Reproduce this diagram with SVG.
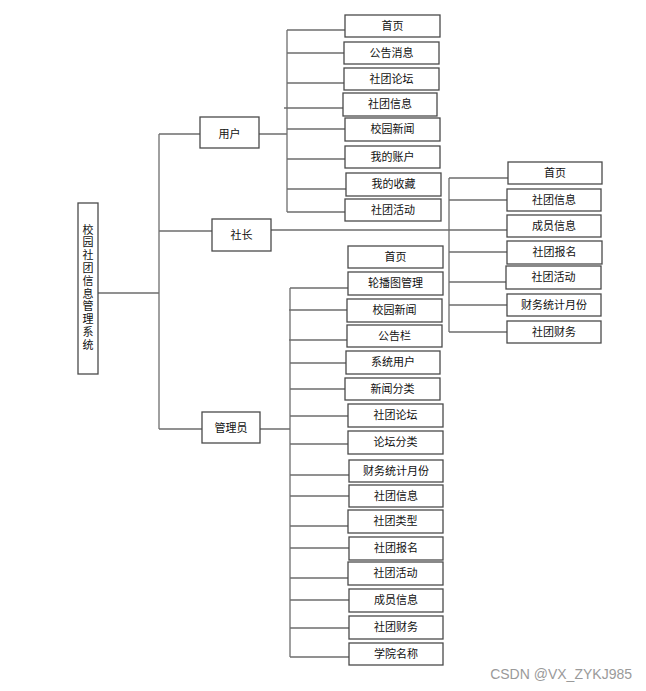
<svg xmlns="http://www.w3.org/2000/svg" width="646" height="691" viewBox="0 0 646 691">
<style>
.n rect{fill:#fff;stroke:#4a4a4a;stroke-width:1.3}
.n text{font-family:"Noto Sans CJK SC","Liberation Sans",sans-serif;font-size:11px;text-anchor:middle;fill:#111}
.n text.v{text-anchor:start;writing-mode:tb;letter-spacing:1.8px}
#connectors path{fill:none;stroke:#6e6e6e;stroke-width:1.3}
.wm{font-family:"Liberation Sans",sans-serif;font-size:14px;fill:#9a9a9a}
</style>
<rect width="646" height="691" fill="#fff"/>
<g id="connectors">
<path d="M98,293H159M159,134V429M159,134H200M159,231H212M159,429H202"/>
<path d="M259,134H287M287,30V212M287,30H345M287,53H344M287,83H344M284,108H343M287,129H345M287,159H345M287,189H346M287,212H345"/>
<path d="M271,230H507M449,178V332M449,178H508M449,200H507M449,252H507M449,282H506M449,305H507M449,332H507"/>
<path d="M260,429H290M290,288V657M290,288H348M289,310H347M289,340H347M290,363H346M290,389H345M290,416H348M290,444H348M290,475H349M290,496H349M290,526H348M290,548H349M290,578H348M290,600H349M290,628H349M290,657H349"/>
</g>
<g id="root" class="n"><rect x="78" y="203" width="20" height="171"/><text class="v" x="88" y="224">校园社团信息管理系统</text></g>
<g id="user" class="n"><rect x="200" y="117" width="59" height="31"/><text x="229.5" y="138">用户</text></g>
<g id="leader" class="n"><rect x="212" y="219" width="59" height="32"/><text x="241.5" y="239">社长</text></g>
<g id="admin" class="n"><rect x="202" y="412" width="58" height="31"/><text x="231" y="432">管理员</text></g>
<g id="u1" class="n"><rect x="345" y="15" width="95" height="22"/><text x="392.5" y="30">首页</text></g>
<g id="u2" class="n"><rect x="344" y="42" width="95" height="22"/><text x="391.5" y="57">公告消息</text></g>
<g id="u3" class="n"><rect x="344" y="68" width="95" height="22"/><text x="391.5" y="83">社团论坛</text></g>
<g id="u4" class="n"><rect x="343" y="93" width="94" height="23"/><text x="390" y="108">社团信息</text></g>
<g id="u5" class="n"><rect x="345" y="118" width="95" height="23"/><text x="392.5" y="133">校园新闻</text></g>
<g id="u6" class="n"><rect x="345" y="146" width="95" height="22"/><text x="392.5" y="161">我的账户</text></g>
<g id="u7" class="n"><rect x="346" y="173" width="95" height="23"/><text x="393.5" y="188">我的收藏</text></g>
<g id="u8" class="n"><rect x="345" y="199" width="96" height="22"/><text x="393" y="214">社团活动</text></g>
<g id="l1" class="n"><rect x="508" y="162" width="94" height="22"/><text x="555" y="177">首页</text></g>
<g id="l2" class="n"><rect x="507" y="189" width="94" height="22"/><text x="554" y="204">社团信息</text></g>
<g id="l3" class="n"><rect x="507" y="215" width="94" height="22"/><text x="554" y="230">成员信息</text></g>
<g id="l4" class="n"><rect x="507" y="241" width="95" height="23"/><text x="554.5" y="256">社团报名</text></g>
<g id="l5" class="n"><rect x="506" y="266" width="95" height="23"/><text x="553.5" y="281">社团活动</text></g>
<g id="l6" class="n"><rect x="507" y="294" width="94" height="22"/><text x="554" y="309">财务统计月份</text></g>
<g id="l7" class="n"><rect x="507" y="321" width="94" height="22"/><text x="554" y="336">社团财务</text></g>
<g id="a1" class="n"><rect x="348" y="246" width="95" height="22"/><text x="395.5" y="261">首页</text></g>
<g id="a2" class="n"><rect x="348" y="272" width="95" height="23"/><text x="395.5" y="287">轮播图管理</text></g>
<g id="a3" class="n"><rect x="347" y="299" width="95" height="23"/><text x="394.5" y="314">校园新闻</text></g>
<g id="a4" class="n"><rect x="347" y="325" width="95" height="22"/><text x="394.5" y="340">公告栏</text></g>
<g id="a5" class="n"><rect x="346" y="351" width="94" height="23"/><text x="393" y="366">系统用户</text></g>
<g id="a6" class="n"><rect x="345" y="378" width="95" height="22"/><text x="392.5" y="393">新闻分类</text></g>
<g id="a7" class="n"><rect x="348" y="404" width="95" height="23"/><text x="395.5" y="419">社团论坛</text></g>
<g id="a8" class="n"><rect x="348" y="431" width="95" height="23"/><text x="395.5" y="446">论坛分类</text></g>
<g id="a9" class="n"><rect x="349" y="460" width="94" height="22"/><text x="396" y="475">财务统计月份</text></g>
<g id="a10" class="n"><rect x="349" y="485" width="94" height="22"/><text x="396" y="500">社团信息</text></g>
<g id="a11" class="n"><rect x="348" y="510" width="95" height="23"/><text x="395.5" y="525">社团类型</text></g>
<g id="a12" class="n"><rect x="349" y="537" width="94" height="23"/><text x="396" y="552">社团报名</text></g>
<g id="a13" class="n"><rect x="348" y="562" width="95" height="23"/><text x="395.5" y="577">社团活动</text></g>
<g id="a14" class="n"><rect x="349" y="589" width="94" height="23"/><text x="396" y="604">成员信息</text></g>
<g id="a15" class="n"><rect x="349" y="616" width="94" height="23"/><text x="396" y="631">社团财务</text></g>
<g id="a16" class="n"><rect x="349" y="643" width="94" height="22"/><text x="396" y="658">学院名称</text></g>
<text class="wm" x="632" y="679" text-anchor="end">CSDN @VX_ZYKJ985</text>
</svg>
